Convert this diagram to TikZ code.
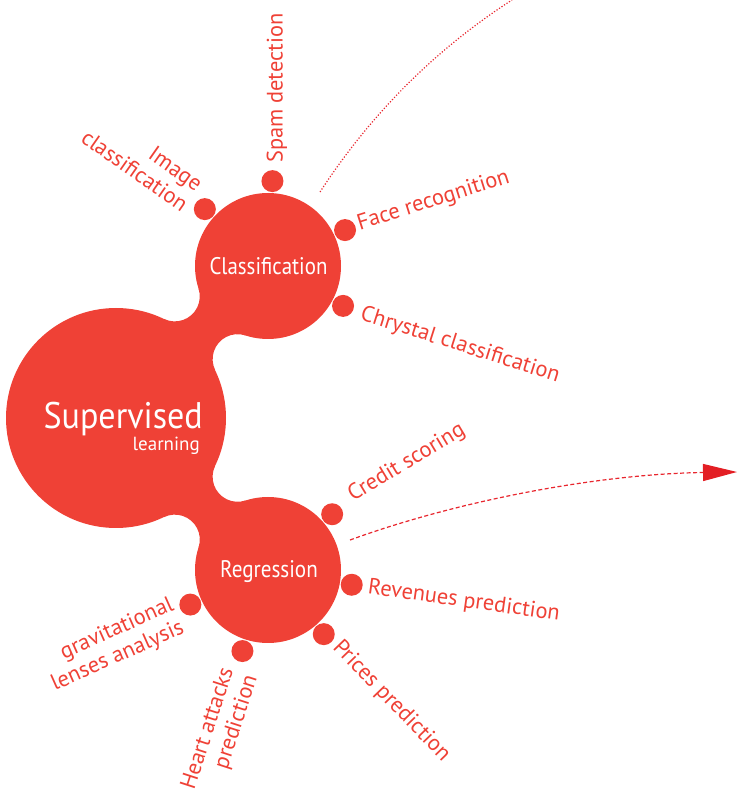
\documentclass[tikz,border=0pt]{standalone}
\usepackage{fontspec}
\setmainfont{PT Sans}
\usetikzlibrary{calc,arrows.meta}
\definecolor{blob}{RGB}{239,65,54}
\definecolor{trail}{RGB}{232,38,46}
\definecolor{tipred}{RGB}{227,30,36}

\begin{document}
\begin{tikzpicture}[x=1pt,y=1pt,
  lbl/.style={text=blob, font=\fontsize{22.4}{25}\selectfont, inner sep=0pt},
  hubtext/.style={text=white, inner sep=0pt},
  disc/.style={circle, fill=blob, inner sep=0pt},
  leaf/.style={circle, fill=blob, minimum size=22pt, inner sep=0pt},
  trailline/.style={draw=trail, line width=1.2pt}]
\useasboundingbox (0,0) rectangle (742,793);

% centres of the three bodies
\coordinate (B) at (116,375);
\coordinate (C) at (268,527);
\coordinate (R) at (268,223);

% bodies
\node[disc, minimum size=220pt] (sup) at (B) {};
\node[disc, minimum size=146pt] (cls) at (C) {};
\node[disc, minimum size=146pt] (reg) at (R) {};

% filleted necks joining the bodies
\fill[blob] (B) -- (163.9,474.1) arc[start angle=244.2, end angle=378.1, radius=25]
  -- (C) -- (245.4,457.6) arc[start angle=71.9, end angle=205.8, radius=25] -- cycle;
\fill[blob] (B) -- (215.1,327.1) arc[start angle=154.2, end angle=288.1, radius=25]
  -- (R) -- (198.6,245.6) arc[start angle=-18.1, end angle=115.8, radius=25] -- cycle;

% titles
\node[hubtext, font=\fontsize{37}{40}\selectfont, anchor=base east] (supt) at (203,364) {\scalebox{0.92}[1]{Supervised}};
\node[hubtext, font=\fontsize{19}{22}\selectfont, anchor=base east] (learn) at (200,342) {learning};
\node[hubtext, font=\fontsize{24}{26}\selectfont] (clst) at (268.5,527) {\scalebox{0.87}[1]{Classification}};
\node[hubtext, font=\fontsize{24}{26}\selectfont] (regt) at (269,221) {\scalebox{0.88}[1]{Regression}};

% leaves of the classification body
\node[leaf] (spam) at ($(C)+(87:85)$) {};
\node[leaf] (img) at ($(C)+(138:85)$) {};
\node[leaf] (face) at ($(C)+(25:85)$) {};
\node[leaf] (chry) at ($(C)+(-28:85)$) {};

% leaves of the regression body
\node[leaf] (cred) at ($(R)+(41:85)$) {};
\node[leaf] (rev) at ($(R)+(-10:85)$) {};
\node[leaf] (price) at ($(R)+(-49:85)$) {};
\node[leaf] (heart) at ($(R)+(-107.5:85)$) {};
\node[leaf] (grav) at ($(R)+(-156:85)$) {};

% leaf labels
\node[lbl, rotate=90, anchor=west] (spamt) at (277,630) {Spam detection};
\node[lbl, rotate=-35, anchor=east, align=right] (imgt) at (193,597) {Image\\classification};
\node[lbl, rotate=17.6, anchor=west] (facet) at (358,568) {Face recognition};
\node[lbl, rotate=-17.6, anchor=west] (chryt) at (361,479) {Chrystal classification};
\node[lbl, rotate=31, anchor=west] (credt) at (350,296) {Credit scoring};
\node[lbl, rotate=-8, anchor=west] (revt) at (368,205) {Revenues prediction};
\node[lbl, rotate=-46, anchor=west] (pricet) at (336,149) {Prices prediction};
\node[lbl, rotate=72, anchor=east, align=right] (heartt) at (240,121) {Heart attacks\\prediction};
\node[lbl, rotate=24, anchor=east, align=right] (gravt) at (178,177) {gravitational\\lenses analysis};

% trails leading away
\coordinate (t1a) at (320,601);
\coordinate (t1b) at (512,793);
\draw[trailline, dash pattern=on 1.2pt off 1.8pt] (t1a) .. controls (380,693) and (450,753) .. (t1b);
\coordinate (t2a) at (350,253);
\coordinate (t2b) at (737,321);
\draw[trailline, dash pattern=on 4pt off 2.5pt, -{Triangle[length=34pt,width=17pt,color=tipred]}]
  (t2a) .. controls (460,293) and (600,319) .. (t2b);
\end{tikzpicture}
\end{document}
